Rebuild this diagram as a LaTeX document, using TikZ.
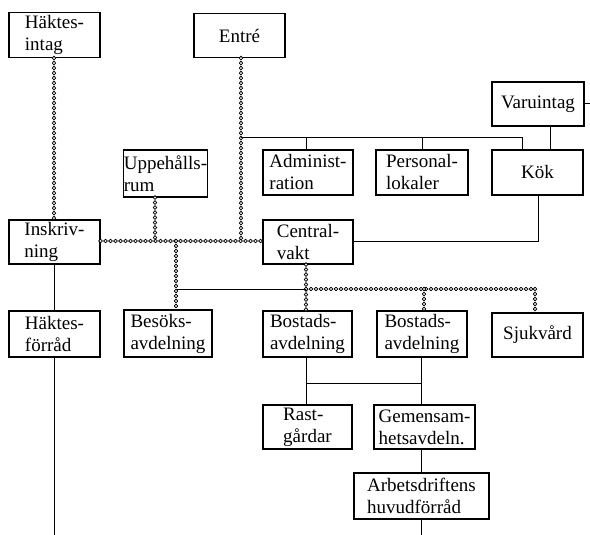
\documentclass[tikz,border=0pt]{standalone}
\usepackage{fontspec}
\setmainfont{Liberation Serif}
\usetikzlibrary{decorations.markings}
\tikzset{
  box/.style={draw, line width=1.1pt, align=left, inner sep=0pt,
    minimum width=91pt, minimum height=45pt, font=\fontsize{19}{22}\selectfont},
  solid line/.style={draw, line width=1pt},
  rings/.style={decoration={markings,
      mark=between positions 0 and 1 step 5pt with {\draw[line width=0.75pt, fill=white] (0,0) ellipse (1.9pt and 1.7pt);}},
    decorate},
}
\begin{document}
\begin{tikzpicture}[x=1pt,y=-1pt]
\useasboundingbox[fill=white] (0,0) rectangle (590,535);
% boxes
\node[box] (hint) at (54.5,35) {Häktes-\\intag};
\node[box, minimum height=44pt] (entre) at (239.5,35.5) {Entré};
\node[box, minimum width=92pt, minimum height=44pt] (varu) at (538,104) {Varuintag};
\node[box, minimum width=83pt, minimum height=47pt] (upp) at (165.5,173.5) {Uppehålls-\\rum};
\node[box, minimum width=90pt] (adm) at (308,172.5) {Administ-\\ration};
\node[box, minimum width=92pt] (pers) at (422,172.5) {Personal-\\lokaler};
\node[box] (kok) at (537.5,172.5) {Kök};
\node[box, minimum height=44pt] (insk) at (54.5,242) {Inskriv-\\ning};
\node[box, minimum width=90pt, minimum height=44pt] (cent) at (308,242) {Central-\\vakt};
\node[box, minimum height=46pt] (hforr) at (54.5,334) {Häktes-\\förråd};
\node[box, minimum width=88pt, minimum height=47pt] (besok) at (168,333.5) {Besöks-\\avdelning};
\node[box, minimum width=89pt, minimum height=46pt] (bost1) at (307.5,334) {Bostads-\\avdelning};
\node[box, minimum width=90pt, minimum height=46pt] (bost2) at (422,334) {Bostads-\\avdelning};
\node[box, minimum height=44pt] (sjuk) at (537.5,335) {Sjukvård};
\node[box, minimum width=89pt, minimum height=44pt] (rast) at (307.5,427) {Rast-\\gårdar};
\node[box, minimum width=101pt, minimum height=44pt] (gem) at (424.5,427) {Gemensam-\\hetsavdeln.};
\node[box, minimum width=135pt, minimum height=46pt] (arb) at (421.5,496) {Arbetsdriftens\\huvudförråd};
% junction coordinates
\coordinate (jE) at (241,241);
\coordinate (jU) at (155,241);
\coordinate (jB) at (176,241);
\coordinate (bus1L) at (241,138);
\coordinate (bus1R) at (522,138);
\coordinate (kokC) at (538,241);
\coordinate (varuR) at (590,104);
\coordinate (sL) at (176,289);
\coordinate (sM) at (306,289);
\coordinate (sR) at (535,289);
\coordinate (rL) at (306,383);
\coordinate (rR) at (421,383);
\coordinate (endL) at (54,535);
\coordinate (endR) at (421,535);
% dotted ring connectors
\path[rings] (hint.south -| 54,0) -- (insk.north -| 54,0);
\path[rings] (entre.south -| jE) -- (jE);
\path[rings] (insk.east |- 0,241) -- (cent.west |- 0,241);
\path[rings] (upp.south -| jU) -- (jU);
\path[rings] (jB) -- (besok.north -| jB);
\path[rings] (cent.south -| sM) -- (bost1.north -| sM);
\path[rings] (sM) -- (sR);
\path[rings] (424,289) -- (bost2.north -| 424,0);
\path[rings] (sR) -- (sjuk.north -| sR);
% solid connectors
\draw[solid line] (bus1L) -- (bus1R) -- (kok.north -| bus1R);
\draw[solid line] (306,138) -- (adm.north -| 306,0);
\draw[solid line] (422,138) -- (pers.north -| 422,0);
\draw[solid line] (varu.south -| 550,0) -- (kok.north -| 550,0);
\draw[solid line] (varu.east) -- (varuR);
\draw[solid line] (kok.south -| kokC) -- (kokC) -- (cent.east |- kokC);
\draw[solid line] (sL) -- (sM);
\draw[solid line] (insk.south -| endL) -- (hforr.north -| endL);
\draw[solid line] (hforr.south -| endL) -- (endL);
\draw[solid line] (bost1.south -| rL) -- (rast.north -| rL);
\draw[solid line] (bost2.south -| rR) -- (gem.north -| rR);
\draw[solid line] (rL) -- (rR);
\draw[solid line] (gem.south -| rR) -- (arb.north -| rR);
\draw[solid line] (arb.south -| rR) -- (endR);
\end{tikzpicture}
\end{document}
